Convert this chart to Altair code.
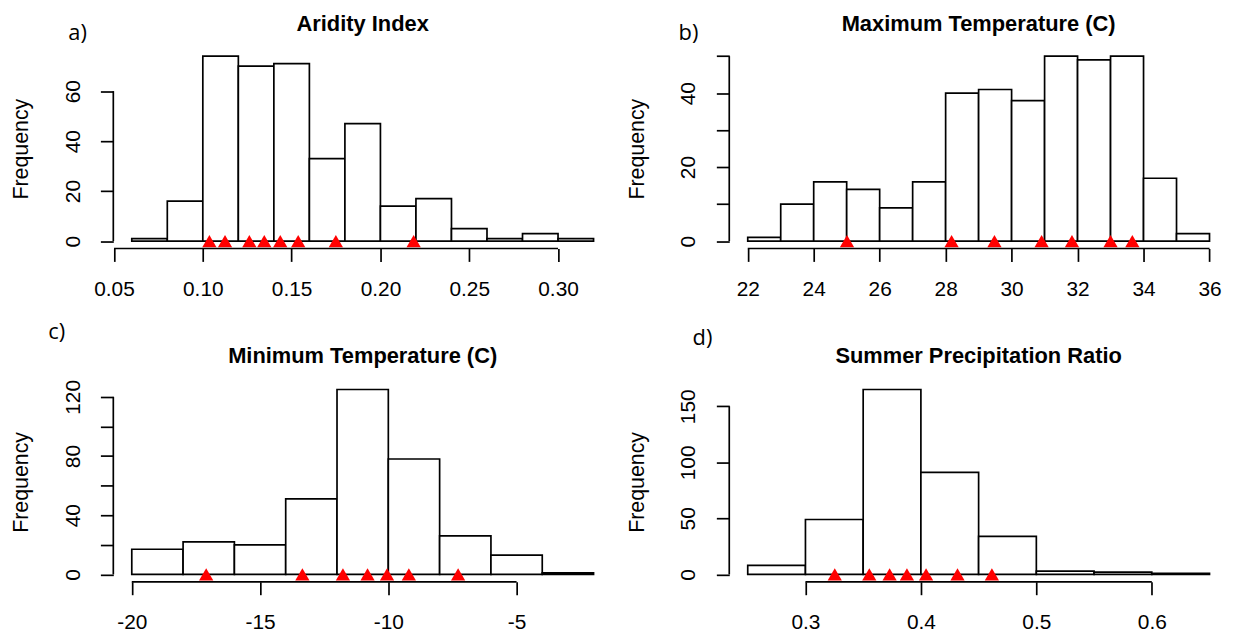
import altair as alt
import pandas as pd

# ---------------- data ----------------
ai_breaks = [0.06, 0.08, 0.10, 0.12, 0.14, 0.16, 0.18, 0.20, 0.22, 0.24, 0.26, 0.28, 0.30, 0.32]
ai_counts = [1, 16, 74, 70, 71, 33, 47, 14, 17, 5, 1, 3, 1]
ai_sites = [0.1037, 0.1125, 0.1262, 0.1346, 0.1436, 0.1537, 0.1749, 0.2187]
ai_xticks = [0.05, 0.10, 0.15, 0.20, 0.25, 0.30]
ai_yticks = [0, 20, 40, 60]
ai_ylabels = [0, 20, 40, 60]

tmax_breaks = [22, 23, 24, 25, 26, 27, 28, 29, 30, 31, 32, 33, 34, 35, 36]
tmax_counts = [1, 10, 16, 14, 9, 16, 40, 41, 38, 50, 49, 50, 17, 2]
tmax_sites = [25.01, 28.18, 29.48, 30.91, 31.83, 33.0, 33.66]
tmax_xticks = [22, 24, 26, 28, 30, 32, 34, 36]
tmax_yticks = [0, 10, 20, 30, 40, 50]
tmax_ylabels = [0, 20, 40]

tmin_breaks = [-20, -18, -16, -14, -12, -10, -8, -6, -4, -2]
tmin_counts = [17, 22, 20, 51, 125, 78, 26, 13, 1]
tmin_sites = [-17.1, -13.35, -11.77, -10.81, -10.05, -9.2, -7.28]
tmin_xticks = [-20, -15, -10, -5]
tmin_yticks = [0, 20, 40, 60, 80, 100, 120]
tmin_ylabels = [0, 40, 80, 120]

spr_breaks = [0.25, 0.30, 0.35, 0.40, 0.45, 0.50, 0.55, 0.60, 0.65]
spr_counts = [8, 49, 165, 91, 34, 3, 2, 1]
spr_sites = [0.3254, 0.3553, 0.3729, 0.3879, 0.4045, 0.4317, 0.4615]
spr_xticks = [0.3, 0.4, 0.5, 0.6]
spr_yticks = [0, 50, 100, 150]
spr_ylabels = [0, 50, 100, 150]

titles = ["Aridity Index", "Maximum Temperature (C)", "Minimum Temperature (C)", "Summer Precipitation Ratio"]
tags = ["a)", "b)", "c)", "d)"]

# ---------------- layout / style ----------------
W, H = 502, 201
FONT = "Liberation Sans"
TICK = 13
LW = 1.7


def panel(breaks, counts, sites, xticks, yticks, ylabels, title, tag, xfmt,
          title_dy, tag_dx, tag_dy):
    lo, hi = breaks[0], breaks[-1]
    ext = 0.04 * (hi - lo)
    xs = alt.Scale(domain=[lo - ext, hi + ext], nice=False, zero=False)
    ymax = max(counts)
    ys = alt.Scale(domain=[-0.04 * ymax, 1.04 * ymax], nice=False, zero=False)

    if xfmt is None:
        xlabel = "'' + datum.value"
    else:
        xlabel = "format(datum.value, '%s')" % xfmt
    xaxis = alt.Axis(values=xticks, labelExpr=xlabel, title=None, grid=False, domain=False,
                     ticks=True, tickSize=TICK, tickWidth=LW, tickColor="black",
                     labelFont=FONT, labelFontSize=21, labelColor="black",
                     labelPadding=28, labelBaseline="middle", labelAlign="center",
                     labelFlush=False, labelOverlap=False)
    lab_list = "[" + ",".join(str(v) for v in ylabels) + "]"
    yaxis = alt.Axis(values=yticks,
                     labelExpr="indexof(%s, datum.value) >= 0 ? '' + datum.value : ''" % lab_list,
                     title="Frequency", titleFont=FONT, titleFontSize=21.5, titleFontWeight="normal",
                     titleColor="black", titleAngle=270, titleX=-92, titleY=H / 2,
                     titleAlign="center", titleBaseline="middle",
                     grid=False, domain=False, ticks=True, tickSize=TICK, tickWidth=LW,
                     tickColor="black", labelFont=FONT, labelFontSize=21, labelColor="black",
                     labelAngle=270, labelAlign="center", labelBaseline="middle",
                     labelPadding=27.5, labelFlush=False, labelOverlap=False)

    bars_df = pd.DataFrame({"lo": breaks[:-1], "hi": breaks[1:], "n": counts})
    sites_df = pd.DataFrame({"v": sites})
    yline_df = pd.DataFrame({"a": [yticks[0]], "b": [yticks[-1]]})
    xline_df = pd.DataFrame({"a": [xticks[0]], "b": [xticks[-1]]})
    tag_df = pd.DataFrame({"t": [tag]})
    title_df = pd.DataFrame({"t": [title]})

    bars = alt.Chart(bars_df).mark_rect(fill="white", stroke="black", strokeWidth=LW).encode(
        x=alt.X("lo:Q", scale=xs, axis=xaxis),
        x2="hi:Q",
        y=alt.Y("n:Q", scale=ys, axis=yaxis),
        y2=alt.datum(0),
    )
    tri = alt.Chart(sites_df).mark_point(shape="triangle-up", filled=True, color="#ff0000",
                                         size=205, opacity=1, strokeWidth=0).encode(
        x=alt.X("v:Q", scale=xs, axis=xaxis),
        y=alt.Y(datum=0, scale=ys, axis=yaxis),
    )
    yline = alt.Chart(yline_df).mark_rule(color="black", strokeWidth=LW).encode(
        x=alt.value(0),
        y=alt.Y("a:Q", scale=ys, axis=yaxis),
        y2="b:Q",
    )
    xline = alt.Chart(xline_df).mark_rule(color="black", strokeWidth=LW).encode(
        x=alt.X("a:Q", scale=xs, axis=xaxis),
        x2="b:Q",
        y=alt.value(H),
    )
    tagt = alt.Chart(tag_df).mark_text(font="Open Sans", fontSize=22, color="black",
                                       align="center", baseline="middle").encode(
        text="t:N", x=alt.value(tag_dx), y=alt.value(tag_dy)
    )
    titlet = alt.Chart(title_df).mark_text(font=FONT, fontSize=22, fontWeight="bold",
                                           color="black", align="center",
                                           baseline="middle").encode(
        text="t:N", x=alt.value(W / 2), y=alt.value(title_dy)
    )
    return alt.layer(bars, tri, yline, xline, tagt, titlet).properties(width=W, height=H)


pa = panel(ai_breaks, ai_counts, ai_sites, ai_xticks, ai_yticks, ai_ylabels,
           titles[0], tags[0], ".2f", -24.5, -36, -16)
pb = panel(tmax_breaks, tmax_counts, tmax_sites, tmax_xticks, tmax_yticks, tmax_ylabels,
           titles[1], tags[1], None, -24.5, -41, -16)
pc = panel(tmin_breaks, tmin_counts, tmin_sites, tmin_xticks, tmin_yticks, tmin_ylabels,
           titles[2], tags[2], None, -26.3, -57, -50)
pd_ = panel(spr_breaks, spr_counts, spr_sites, spr_xticks, spr_yticks, spr_ylabels,
            titles[3], tags[3], ".1f", -26.3, -27, -44)

chart = alt.concat(
    pa, pb, pc, pd_, columns=2,
    spacing=alt.RowColnumber(row=134.5, column=118), bounds="flush",
).properties(
    padding={"left": 3, "top": 3, "right": -3, "bottom": 0},
    background="white",
).configure_view(stroke=None)

chart.save("out.html", embed_options={"renderer": "svg", "actions": False})
